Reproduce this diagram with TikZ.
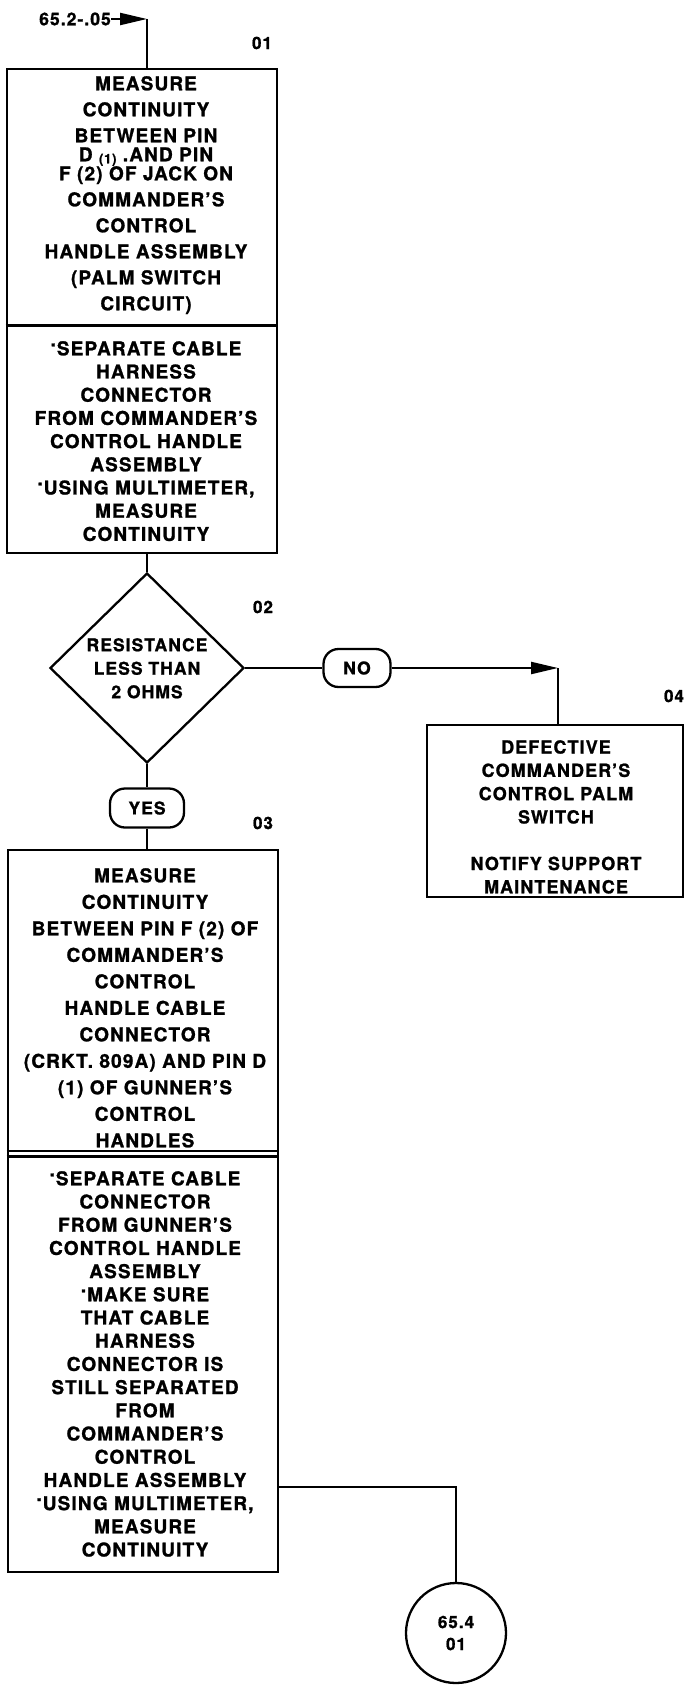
\documentclass[tikz,border=0pt]{standalone}
\usepackage{fontspec}
\setmainfont{TeX Gyre Heros}[LetterSpace=6,BoldFeatures={FakeBold=1.2}]
\usetikzlibrary{shapes.geometric,arrows.meta}
\newcommand{\dotb}{\raisebox{9pt}{.}\kern1pt}
\begin{document}
\begin{tikzpicture}[x=1pt,y=-1pt,
  box/.style={draw,line width=2.6pt,inner sep=0},
  conn/.style={line width=2.2pt},
  arr/.style={line width=2.2pt,-{Triangle[length=27pt,width=12pt]}},
  txta/.style={align=center,inner sep=0,anchor=north,font=\bfseries\fontsize{19}{26}\selectfont},
  txtb/.style={align=center,inner sep=0,anchor=north,font=\bfseries\fontsize{19}{23.2}\selectfont},
  txtc/.style={align=center,inner sep=0,anchor=north,font=\bfseries\fontsize{19}{26.5}\selectfont},
  lbl/.style={inner sep=0,font=\bfseries\fontsize{17}{20}\selectfont},
  pill/.style={draw,line width=2.3pt,rounded corners=15pt,inner sep=0,font=\bfseries\fontsize{17.5}{20}\selectfont}
]
\fill[white] (0,0) rectangle (684,1685);
\useasboundingbox (0,0) rectangle (684,1685);

% entry
\node[lbl,anchor=east,font=\bfseries\fontsize{17.5}{18}\selectfont] (entry) at (111,19) {65.2-.05};
\coordinate (c1) at (147,19);
\draw[arr] (entry.east) -- (c1);

% box 01
\node[box,minimum width=270pt,minimum height=484pt] (b1) at (142,311) {};
\draw[conn] (c1) -- (c1 |- b1.north);
\draw[line width=2.6pt] ([yshift=-258pt]b1.north west) -- ([yshift=-258pt]b1.north east);
\node[txta] (b1a) at (146,76) {MEASURE\\CONTINUITY\\BETWEEN PIN\\[-7pt]D \raisebox{-2pt}{\fontsize{13}{13}\selectfont(1)} .AND PIN\\[-7pt]F (2) OF JACK ON\\COMMANDER'S\\CONTROL\\HANDLE ASSEMBLY\\(PALM SWITCH\\CIRCUIT)};
\node[txtb] (b1b) at (146,341) {\dotb SEPARATE CABLE\\HARNESS\\CONNECTOR\\FROM COMMANDER'S\\CONTROL HANDLE\\ASSEMBLY\\\dotb USING MULTIMETER,\\MEASURE\\CONTINUITY};
\node[lbl] (l01) at (262,43) {01};

% decision 02
\node[draw,diamond,line width=2.3pt,minimum width=194pt,minimum height=190pt,inner sep=0] (d2) at (147,668) {};
\node[align=center,inner sep=0,anchor=north,font=\bfseries\fontsize{17.5}{23.5}\selectfont] (d2t) at (147,638) {RESISTANCE\\LESS THAN\\2 OHMS};
\node[lbl] (l02) at (263,607) {02};
\draw[conn] (d2.north |- b1.south) -- (d2.north);

% NO branch
\node[pill,minimum width=67pt,minimum height=38pt] (no) at (357,668) {NO};
\coordinate (c4) at (558,668);
\draw[conn] (d2.east) -- (no.west);
\draw[arr] (no.east) -- (c4);

% box 04
\node[box,minimum width=256pt,minimum height=172pt] (b4) at (555,811) {};
\draw[conn] (c4) -- (c4 |- b4.north);
\node[align=center,inner sep=0,anchor=north,font=\bfseries\fontsize{18}{23.3}\selectfont] (b4t) at (556,740) {DEFECTIVE\\COMMANDER'S\\CONTROL PALM\\SWITCH\\\mbox{}\\NOTIFY SUPPORT\\MAINTENANCE};
\node[lbl] (l04) at (674,696) {04};

% YES branch
\node[pill,minimum width=74pt,minimum height=39pt] (yes) at (147,808) {YES};
\draw[conn] (d2.south) -- (yes.north);

% box 03
\node[box,minimum width=270pt,minimum height=722pt] (b3) at (143,1211) {};
\draw[conn] (yes.south) -- (yes.south |- b3.north);
\draw[line width=2pt] ([yshift=-302pt]b3.north west) -- ([yshift=-302pt]b3.north east);
\draw[line width=2.6pt] ([yshift=-308pt]b3.north west) -- ([yshift=-308pt]b3.north east);
\node[txtc] (b3a) at (145,868) {MEASURE\\CONTINUITY\\BETWEEN PIN F (2) OF\\COMMANDER'S\\CONTROL\\HANDLE CABLE\\CONNECTOR\\(CRKT. 809A) AND PIN D\\(1) OF GUNNER'S\\CONTROL\\HANDLES};
\node[txtb] (b3b) at (145,1171) {\dotb SEPARATE CABLE\\CONNECTOR\\FROM GUNNER'S\\CONTROL HANDLE\\ASSEMBLY\\\dotb MAKE SURE\\THAT CABLE\\HARNESS\\CONNECTOR IS\\STILL SEPARATED\\FROM\\COMMANDER'S\\CONTROL\\HANDLE ASSEMBLY\\\dotb USING MULTIMETER,\\MEASURE\\CONTINUITY};
\node[lbl] (l03) at (263,823) {03};

% off-page connector
\node[draw,circle,line width=2.3pt,minimum size=100pt,inner sep=0,align=center,font=\bfseries\fontsize{17}{22}\selectfont] (cc) at (456,1633) {65.4\\01};
\coordinate (c5) at (456,1487);
\draw[conn] (c5 -| b3.east) -- (c5) -- (cc.north);
\end{tikzpicture}
\end{document}
